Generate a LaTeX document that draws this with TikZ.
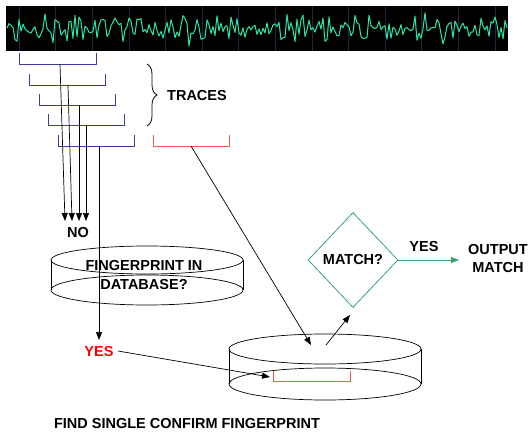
\documentclass[tikz,border=0pt]{standalone}
\usepackage{fontspec}
\setmainfont{Liberation Sans}
\usetikzlibrary{shapes.geometric,arrows.meta,decorations.pathreplacing}
\definecolor{tblue}{RGB}{60,60,160}
\definecolor{tred}{RGB}{255,85,85}
\definecolor{tgreen}{RGB}{60,160,110}
\definecolor{wavegreen}{RGB}{40,230,170}
\definecolor{gridblue}{RGB}{25,40,65}
\begin{document}
\begin{tikzpicture}[x=1pt,y=-1pt,
  lbl/.style={font=\fontsize{14.5}{19}\selectfont\bfseries, inner sep=0pt, align=center},
  bracketline/.style={line width=1pt},
  arr/.style={-{Triangle[length=8pt,width=6pt]}, line width=0.7pt},
  cyl/.style={line width=0.7pt}
]
\useasboundingbox (0,0) rectangle (530,432);
% waveform band
\fill (6,6) rectangle (508,51);
\foreach \k in {0,...,13} \draw[gridblue, line width=0.6pt] ({19+36.6*\k},6) -- ({19+36.6*\k},51);
\begin{scope}
\clip (6,7) rectangle (508,50);
\pgfmathsetseed{7}
\draw[wavegreen, line width=1pt, line join=round] (7,28) \foreach \i in {9,11,...,507} { -- (\i,{28+9*rand+7*sin(\i*29)*sin(\i*2.3)+4*sin(72*mod(\i,5)-\i)}) };
\end{scope}
% trace brackets
\foreach \xa/\xb/\yt/\yb in {19/96/53/64, 29/105/74/85, 39/115/94/105, 48/124/114/125, 58/134/135/146}
  \draw[tblue, bracketline] (\xa,\yt) -- (\xa,\yb) -- (\xb,\yb) -- (\xb,\yt);
\draw[tred, bracketline] (153,135) -- (153,146) -- (229,146) -- (229,135);
% brace
\draw[line width=0.8pt, decorate, decoration={brace, amplitude=10pt}] (147,64) -- (147,126);
\node[lbl, anchor=west] (traces) at (167,96) {TRACES};
% coordinates
\coordinate (s1) at (60,64);
\coordinate (s2) at (68,85);
\coordinate (s3) at (79,105);
\coordinate (s4) at (86,125);
\coordinate (s5) at (99,146);
\coordinate (sr) at (191,146);
\coordinate (t1) at (65,221);
\coordinate (t2) at (72,221);
\coordinate (t3) at (79,221);
\coordinate (t4) at (86,221);
\node[lbl] (no) at (78,233) {NO};
% left cylinder
\draw[cyl] (147,260) ellipse [x radius=96pt, y radius=14pt];
\draw[cyl] (147,290) ellipse [x radius=96pt, y radius=15pt];
\draw[cyl] (51,260) -- (51,290);
\draw[cyl] (243,260) -- (243,290);
\node[lbl] (fpq) at (144,275) {FINGERPRINT IN\\DATABASE?};
% right cylinder
\draw[cyl] (325,349) ellipse [x radius=96pt, y radius=15pt];
\draw[cyl] (325,384) ellipse [x radius=96pt, y radius=16pt];
\draw[cyl] (229,349) -- (229,384);
\draw[cyl] (421,349) -- (421,384);
\draw[tred, bracketline] (273,371) -- (273,381) -- (350,381) -- (350,371);
% arrows from traces
\draw[arr] (s1) -- (t1);
\draw[arr] (s2) -- (t2);
\draw[arr] (s3) -- (t3);
\draw[arr] (s4) -- (t4);
\node[lbl, text=red] (yes) at (99,352) {YES};
\coordinate (yt) at (99,340);
\draw[arr] (s5) -- (yt);
\coordinate (ys) at (118,351);
\coordinate (rb) at (270,377);
\draw[arr] (ys) -- (rb);
\coordinate (rc) at (311,345);
\draw[arr] (sr) -- (rc);
% decision
\node[diamond, draw=tgreen, line width=0.8pt, minimum width=90pt, minimum height=95pt, inner sep=0pt, aspect=0.95, lbl] (match) at (353,260) {MATCH?};
\coordinate (cu) at (326,345);
\coordinate (mb) at (350,315);
\draw[arr] (cu) -- (mb);
\coordinate (om) at (459,260);
\draw[arr, tgreen, line width=0.8pt] (match.east) -- (om);
\node[lbl] (yesg) at (424,247) {YES};
\node[lbl, font=\fontsize{14.5}{18}\selectfont\bfseries] (out) at (498,259) {OUTPUT\\MATCH};
\node[lbl] (find) at (187,423) {FIND SINGLE CONFIRM FINGERPRINT};
\end{tikzpicture}
\end{document}
